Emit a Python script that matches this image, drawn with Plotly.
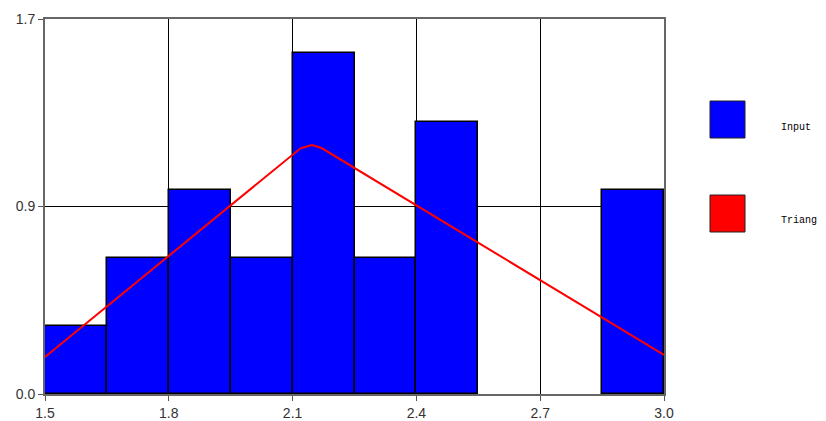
import plotly.graph_objects as go

# Histogram bins (left edges, width) and density heights; empty bins are None
bin_left = [1.50, 1.65, 1.80, 1.95, 2.10, 2.25, 2.40, 2.55, 2.70, 2.85]
bin_width = 0.15
density = [0.308, 0.617, 0.925, 0.617, 1.545, 0.617, 1.235, None, None, 0.925]

# Fitted triangular density over the plotted range
tri_x = [1.50, 2.12, 2.147, 2.17, 3.00]
tri_y = [0.168, 1.115, 1.129, 1.115, 0.177]

# Tick positions and their (rounded) labels
x_ticks = [1.5, 1.8, 2.1, 2.4, 2.7, 3.0]
x_labels = ["1.5", "1.8", "2.1", "2.4", "2.7", "3.0"]
y_ticks = [0.0, 0.85, 1.7]
y_labels = ["0.0", "0.9", "1.7"]

BLUE = "#0000ff"
RED = "#ff0000"

fig = go.Figure()

fig.add_trace(go.Bar(
    x=[l + bin_width / 2 for l in bin_left],
    y=density,
    width=bin_width,
    marker=dict(color=BLUE, line=dict(color="#000000", width=1.5)),
    name="Input",
    showlegend=False,
))

fig.add_trace(go.Scatter(
    x=tri_x, y=tri_y, mode="lines",
    line=dict(color=RED, width=2),
    name="Triang",
    showlegend=False,
))

axis_font = dict(family="Liberation Sans, Arial, sans-serif", size=14, color="#333333")

fig.update_xaxes(
    range=[1.5, 3.0], tickvals=x_ticks, ticktext=x_labels,
    showgrid=True, gridcolor="#000000", gridwidth=1,
    showline=True, linecolor="#666666", linewidth=2, mirror=True,
    ticks="outside", ticklen=5, tickcolor="#555555",
    tickfont=axis_font, zeroline=False, automargin=False,
)
fig.update_yaxes(
    range=[0, 1.7], tickvals=y_ticks, ticktext=y_labels,
    showgrid=True, gridcolor="#000000", gridwidth=1,
    showline=True, linecolor="#666666", linewidth=2, mirror=True,
    ticks="outside", ticklen=5, tickcolor="#555555",
    tickfont=axis_font, zeroline=False, automargin=False,
)

# Legend drawn as swatches + labels to the right of the plot
legend_items = [("Input", BLUE, 101), ("Triang", RED, 195)]
shapes = []
annotations = []
W, H = 826, 421
PL, PR, PT, PB = 45, 664, 19, 394
for label, color, top in legend_items:
    shapes.append(dict(
        type="rect", xref="paper", yref="paper",
        x0=(710 - PL) / (PR - PL), x1=(745 - PL) / (PR - PL),
        y0=(PB - (top + 37)) / (PB - PT), y1=(PB - top) / (PB - PT),
        fillcolor=color, line=dict(color="#222222", width=1),
    ))
    annotations.append(dict(
        xref="paper", yref="paper",
        x=(779 - PL) / (PR - PL), y=(PB - (top + 26)) / (PB - PT),
        text=label, showarrow=False, xanchor="left", yanchor="middle",
        font=dict(family="Liberation Mono, Courier New, monospace", size=10, color="#000000"),
    ))

fig.update_layout(
    width=W, height=H,
    margin=dict(l=PL, r=W - PR, t=PT, b=H - PB),
    plot_bgcolor="#ffffff", paper_bgcolor="#ffffff",
    bargap=0, shapes=shapes, annotations=annotations,
)

fig.write_html("out.html")
